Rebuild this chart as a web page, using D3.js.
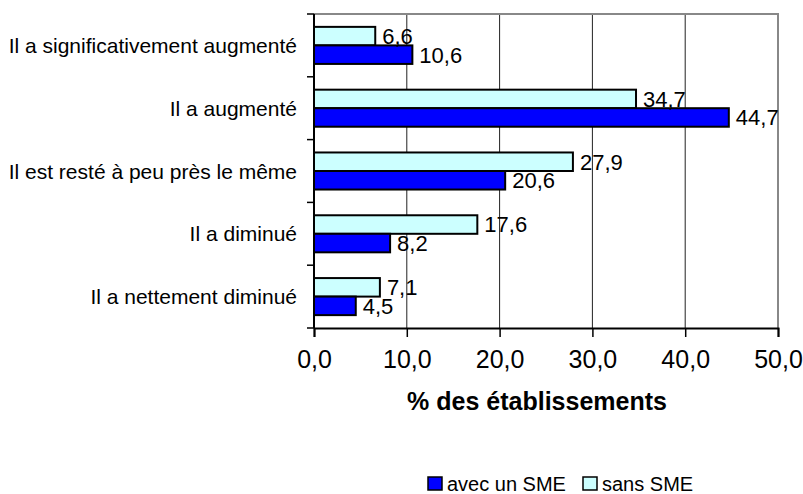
<!DOCTYPE html>
<html>
<head>
<meta charset="utf-8">
<script src="https://cdn.jsdelivr.net/npm/d3@7"></script>
<style>
  body { margin: 0; background: #fff; }
  svg { display: block; font-family: Arial, "Liberation Sans", sans-serif; }
</style>
</head>
<body>
<svg></svg>
<script>
// data
let categories = [
    'Il a significativement augmenté',
    'Il a augmenté',
    'Il est resté à peu près le même',
    'Il a diminué',
    'Il a nettement diminué'
];
let sansSME = [6.6, 34.7, 27.9, 17.6, 7.1];
let avecSME = [10.6, 44.7, 20.6, 8.2, 4.5];
let seriesNames = ['sans SME', 'avec un SME'];
let xTicks = [0, 10, 20, 30, 40, 50];

let width = 803;
let height = 494;
let plotLeft = 314, plotRight = 778, plotTop = 14, plotBottom = 328;

let colors = { 'sans SME': '#CCFFFF', 'avec un SME': '#0000FF' };

let svg = d3.select('svg').attr('width', width).attr('height', height);

let fmt = (v) => d3.format('.1f')(v).replace('.', ',');

let xScale = d3.scaleLinear().domain([0, 50]).range([plotLeft, plotRight]);
let yScale = d3.scaleBand().domain(categories).range([plotTop, plotBottom])
               .paddingInner(0.41).paddingOuter(0.205);
let ySub = d3.scaleBand().domain(seriesNames).range([0, yScale.bandwidth()]);

let rows = categories.map((c, i) => ({
    cat: c,
    vals: [{ s: 'sans SME', v: sansSME[i] }, { s: 'avec un SME', v: avecSME[i] }]
}));

// gridlines
svg.append('g')
    .selectAll('line')
    .data(xTicks.slice(1, -1))
    .enter()
    .append('line')
    .attr('x1', d => xScale(d)).attr('x2', d => xScale(d))
    .attr('y1', plotTop).attr('y2', plotBottom)
    .attr('stroke', '#222').attr('stroke-width', 1);

// top and right frame
svg.append('path')
    .attr('d', `M${plotLeft},${plotTop}H${plotRight}V${plotBottom}`)
    .attr('fill', 'none').attr('stroke', '#888').attr('stroke-width', 2);

// bars
let groups = svg.append('g').selectAll('g')
    .data(rows)
    .enter()
    .append('g')
    .attr('transform', d => 'translate(0,' + yScale(d.cat) + ')');

groups.selectAll('rect')
    .data(d => d.vals)
    .enter()
    .append('rect')
    .attr('x', xScale(0))
    .attr('y', d => ySub(d.s))
    .attr('width', d => xScale(d.v) - xScale(0))
    .attr('height', ySub.bandwidth())
    .attr('fill', d => colors[d.s])
    .attr('stroke', '#000')
    .attr('stroke-width', 2);

// value labels
groups.selectAll('text')
    .data(d => d.vals)
    .enter()
    .append('text')
    .attr('x', d => xScale(d.v) + 7)
    .attr('y', d => ySub(d.s) + ySub.bandwidth() / 2)
    .attr('dy', '0.36em')
    .attr('font-size', 22)
    .attr('fill', '#000')
    .text(d => fmt(d.v));

// x axis
let xAxis = d3.axisBottom(xScale).tickValues(xTicks).tickFormat(fmt)
              .tickSize(9).tickPadding(13);
let gx = svg.append('g')
    .attr('transform', 'translate(0,' + plotBottom + ')')
    .call(xAxis);
gx.select('.domain').attr('stroke', '#000').attr('stroke-width', 2);
gx.selectAll('.tick line').attr('stroke', '#000').attr('stroke-width', 1.5);
gx.selectAll('text').attr('font-size', 25).attr('font-family', 'Arial, "Liberation Sans", sans-serif').attr('fill', '#000');

// y axis: ticks sit on the category boundaries
let boundaries = d3.range(categories.length + 1).map(i => plotTop + i * yScale.step());
svg.append('g')
    .selectAll('line')
    .data(boundaries)
    .enter()
    .append('line')
    .attr('x1', plotLeft - 7).attr('x2', plotLeft)
    .attr('y1', d => d).attr('y2', d => d)
    .attr('stroke', '#000').attr('stroke-width', 1.5);
svg.append('line')
    .attr('x1', plotLeft).attr('x2', plotLeft)
    .attr('y1', plotTop).attr('y2', plotBottom)
    .attr('stroke', '#000').attr('stroke-width', 2);

svg.append('g')
    .selectAll('text')
    .data(categories)
    .enter()
    .append('text')
    .attr('x', 297)
    .attr('y', d => yScale(d) + yScale.bandwidth() / 2)
    .attr('dy', '0.36em')
    .attr('text-anchor', 'end')
    .attr('font-size', 21)
    .attr('fill', '#000')
    .text(d => d);

// axis title
svg.append('text')
    .attr('x', 537)
    .attr('y', 410)
    .attr('text-anchor', 'middle')
    .attr('font-size', 25)
    .attr('font-weight', 'bold')
    .text('% des établissements');

// legend
let legendItems = [
    { name: 'avec un SME', x: 428 },
    { name: 'sans SME', x: 583 }
];
let lg = svg.append('g').selectAll('g')
    .data(legendItems)
    .enter()
    .append('g')
    .attr('transform', d => 'translate(' + d.x + ',477)');
lg.append('rect')
    .attr('width', 14).attr('height', 13)
    .attr('fill', d => colors[d.name])
    .attr('stroke', '#000').attr('stroke-width', 1.5);
lg.append('text')
    .attr('x', 19)
    .attr('y', 14)
    .attr('font-size', 20)
    .text(d => d.name);
</script>
</body>
</html>
